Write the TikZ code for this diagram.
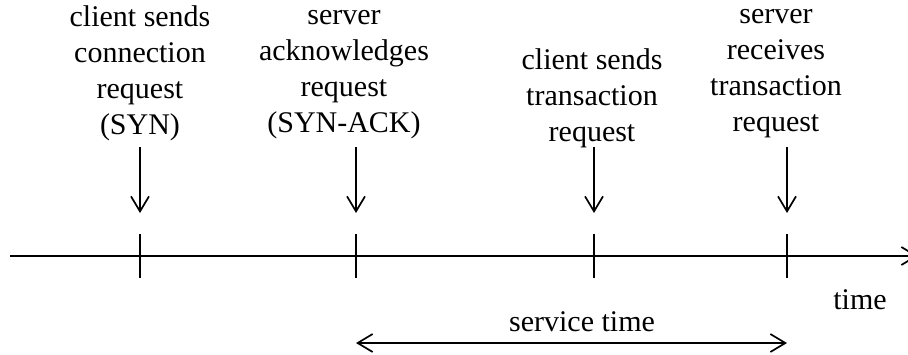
\documentclass[tikz,border=0pt]{standalone}
\usepackage{fontspec}
\setmainfont{Liberation Serif}
\usetikzlibrary{arrows.meta}
\begin{document}
\begin{tikzpicture}[x=1pt,y=-1pt,
  line width=1.7pt,
  barb/.style={-{Straight Barb[length=15pt,width=18pt,line width=1.7pt]}},
  dbarb/.style={{Straight Barb[length=15pt,width=18pt,line width=1.7pt]}-{Straight Barb[length=15pt,width=18pt,line width=1.7pt]}},
  lbl/.style={align=center,inner sep=0pt,font=\fontsize{30}{36}\selectfont}]
\useasboundingbox (0,0) rectangle (908,354);
\clip (0,0) rectangle (908,354);
% axis
\coordinate (axs) at (10,256);
\coordinate (axe) at (918,256);
\draw[barb] (axs) -- (axe);
% ticks
\foreach \n/\x in {1/140,2/356,3/594,4/787}{
  \coordinate (tt\n) at (\x,234);
  \coordinate (tb\n) at (\x,278);
  \draw (tt\n) -- (tb\n);
  \coordinate (as\n) at (\x,147);
  \coordinate (ae\n) at (\x,213);
  \draw[barb] (as\n) -- (ae\n);
}
% labels
\node[lbl] (l1) at (140,73) {client sends\\connection\\request\\(SYN)};
\node[lbl] (l2) at (344,75) {server\\acknowledges\\request\\(SYN-ACK)};
\node[lbl] (l3) at (592,98) {client sends\\transaction\\request};
\node[lbl] (l4) at (776,74) {server\\receives\\transaction\\request};
\node[lbl] (tm) at (860,300) {time};
\node[lbl] (st) at (582,322) {service time};
% service time arrow
\coordinate (ss) at (356,343);
\coordinate (se) at (787,343);
\draw[dbarb] (ss) -- (se);
\end{tikzpicture}
\end{document}
